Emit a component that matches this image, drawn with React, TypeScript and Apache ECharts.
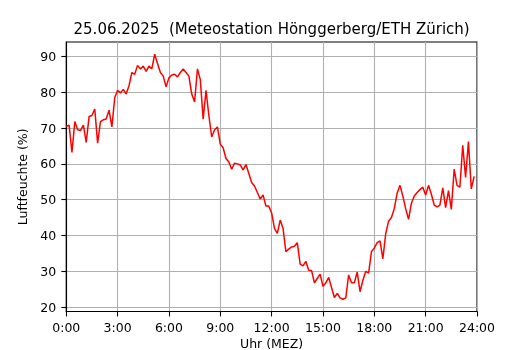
import React, { useEffect, useRef } from 'react';
import * as echarts from 'echarts';

const titleText = '25.06.2025  (Meteostation Hönggerberg/ETH Zürich)';
const xAxisName = 'Uhr (MEZ)';
const yAxisName = 'Luftfeuchte (%)';
const stepMinutes = 10;
const xTickHours = [0, 3, 6, 9, 12, 15, 18, 21, 24];
const yTickValues = [20, 30, 40, 50, 60, 70, 80, 90];

// relative humidity, one value every 10 minutes from 0:00 to 23:50
const humidity = [
  70.5, 70.8, 63.2, 71.8, 69.5, 69.3, 70.8, 66.0, 73.2, 73.5, 75.3, 65.8,
  71.8, 72.3, 72.5, 75.0, 70.3, 78.5, 80.5, 79.8, 80.8, 79.5, 81.8, 85.5,
  85.0, 87.5, 86.5, 87.3, 85.8, 87.3, 86.5, 90.6, 88.0, 85.5, 84.5, 81.5,
  84.0, 84.8, 85.0, 84.3, 85.5, 86.5, 85.5, 84.5, 79.5, 77.3, 86.5, 83.5,
  72.5, 80.5, 73.5, 67.5, 69.5, 70.3, 65.5, 64.5, 61.5, 60.5, 58.5, 60.2,
  60.0, 59.7, 58.3, 59.8, 57.3, 54.8, 53.8, 52.0, 50.2, 51.3, 48.2, 48.2,
  46.3, 42.0, 40.6, 44.3, 42.0, 35.5, 36.2, 36.8, 37.0, 38.0, 32.0, 31.5,
  32.8, 30.3, 30.2, 26.8, 28.0, 29.2, 25.8, 26.8, 28.3, 25.5, 22.7, 23.8,
  22.6, 22.2, 22.6, 29.0, 26.8, 26.8, 29.8, 24.3, 27.5, 30.0, 29.5, 35.5,
  36.5, 38.0, 38.5, 33.5, 40.5, 44.0, 45.0, 47.5, 51.8, 54.0, 51.0, 47.5,
  44.5, 49.0, 51.0, 52.0, 52.8, 53.5, 51.3, 54.0, 51.5, 48.5, 48.0, 48.5,
  53.3, 47.8, 52.5, 47.3, 58.5, 54.0, 53.5, 65.2, 56.2, 66.2, 53.0, 56.5,
];

export default function App() {
  const ref = useRef<HTMLDivElement>(null);
  useEffect(() => {
    if (!ref.current) return;
    const chart = echarts.init(ref.current, null, { renderer: 'svg' });
    const font = 'DejaVu Sans';
    const data = humidity.map((v, i) => [(i * stepMinutes) / 60, v]);
    const vMin = Math.min(...humidity);
    const vMax = Math.max(...humidity);
    const pad = (vMax - vMin) * 0.05;
    chart.setOption({
      animation: false,
      textStyle: { fontFamily: font },
      graphic: [
        {
          type: 'text',
          x: 271.6,
          y: 29,
          style: {
            text: titleText,
            fontFamily: font,
            fontSize: 15,
            fill: '#000',
            align: 'center',
            verticalAlign: 'middle',
          },
        },
        {
          type: 'text',
          x: 271.6,
          y: 343,
          style: {
            text: xAxisName,
            fontFamily: font,
            fontSize: 12.5,
            fill: '#000',
            align: 'center',
            verticalAlign: 'middle',
          },
        },
      ],
      grid: {
        left: 66.25,
        right: 53,
        top: 42,
        bottom: 38.5,
        containLabel: false,
        outerBoundsMode: 'none',
        show: true,
        borderColor: '#000',
        borderWidth: 1.1,
        backgroundColor: 'transparent',
      },
      xAxis: {
        type: 'value',
        min: xTickHours[0],
        max: xTickHours[xTickHours.length - 1],
        interval: 3,
        axisLine: { show: true, lineStyle: { color: '#000', width: 1.1 } },
        axisTick: { show: true, length: 4.9, lineStyle: { color: '#000', width: 1.1 } },
        axisLabel: {
          fontSize: 12.5,
          color: '#000',
          fontFamily: font,
          margin: 9,
          formatter: (v: number) => `${v}:00`,
        },
        splitLine: { show: true, lineStyle: { color: '#b0b0b0', width: 1.1 } },
      },
      yAxis: {
        type: 'value',
        min: vMin - pad,
        max: vMax + pad,
        name: yAxisName,
        nameLocation: 'middle',
        nameGap: 32,
        nameTextStyle: { fontSize: 12.5, color: '#000', fontFamily: font },
        axisLine: { show: true, lineStyle: { color: '#000', width: 1.1 } },
        axisTick: {
          show: true,
          length: 4.9,
          customValues: yTickValues,
          lineStyle: { color: '#000', width: 1.1 },
        },
        axisLabel: {
          fontSize: 12.5,
          color: '#000',
          fontFamily: font,
          margin: 10,
          customValues: yTickValues,
        },
        splitLine: { show: true, lineStyle: { color: '#b0b0b0', width: 1.1 } },
      },
      series: [
        {
          type: 'line',
          data,
          symbol: 'none',
          showSymbol: false,
          lineStyle: { color: '#ff0000', width: 1.5 },
          itemStyle: { color: '#ff0000' },
        },
      ],
    });
    return () => chart.dispose();
  }, []);
  return (
    <div
      ref={ref}
      style={{ position: 'fixed', left: 0, top: 0, width: 530, height: 350 }}
    />
  );
}
